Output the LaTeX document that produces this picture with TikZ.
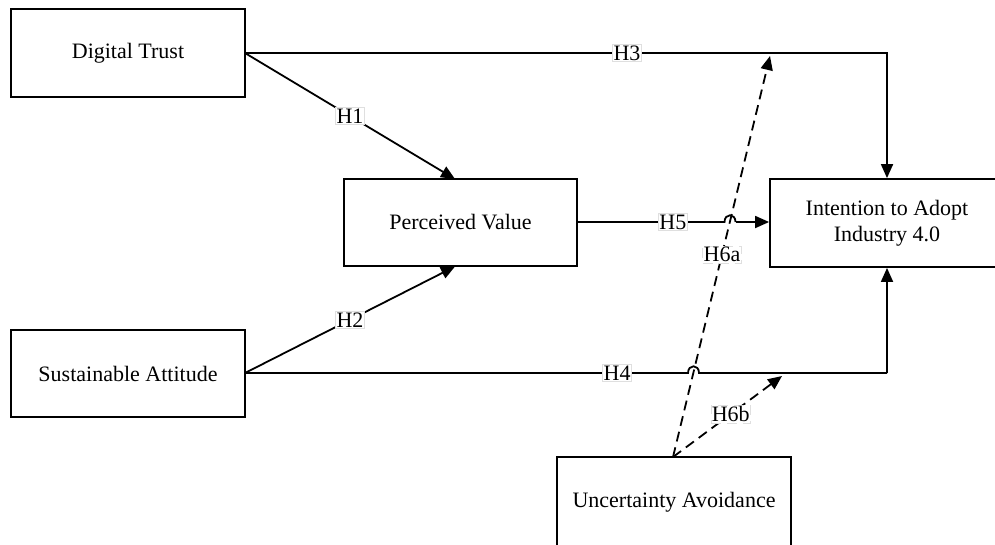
\documentclass[tikz,border=0pt]{standalone}
\usepackage{fontspec}
\setmainfont{Liberation Serif}
\usetikzlibrary{arrows.meta}
\begin{document}
\begin{tikzpicture}[x=1pt,y=-1pt,
  box/.style={draw, line width=1.8pt, rectangle, inner sep=0pt, align=center,
    font=\fontsize{22}{26}\selectfont},
  lbl/.style={fill=white, draw=gray!25, line width=0.6pt, inner sep=1pt,
    font=\fontsize{22}{26}\selectfont},
  link/.style={line width=1.8pt, -{Triangle[length=14pt,width=12pt]}},
  plain/.style={line width=1.8pt},
  dlink/.style={line width=1.8pt, dash pattern=on 10pt off 6pt,
    -{Triangle[length=14pt,width=12pt]}}]
\useasboundingbox (0,0) rectangle (995,544);
\clip (0,0) rectangle (995,544);
\fill[white] (0,0) rectangle (995,544);

\node[box, minimum width=234pt, minimum height=88pt] (dt) at (128,53) {Digital Trust};
\node[box, minimum width=233pt, minimum height=87pt] (pv) at (460.5,222.5) {Perceived Value};
\node[box, minimum width=234pt, minimum height=87pt] (sa) at (128,373.5) {Sustainable Attitude};
\node[box, minimum width=234pt, minimum height=88pt] (ia) at (887,223) {Intention to Adopt\\Industry 4.0};
\node[box, minimum width=234pt, minimum height=90pt] (ua) at (674,502) {Uncertainty Avoidance};

\coordinate (dto) at (245,53);
\coordinate (sao) at (245,373);
\coordinate (uao) at (673,457);
\coordinate (t6a) at (770,56);
\coordinate (t6b) at (782,376);
\coordinate (j5) at (735.5,222);

% H1, H2
\draw[link] (dto) -- node[lbl, pos=0.5] (h1) {H1} (455,179);
\draw[link] (sao) -- node[lbl, pos=0.5] (h2) {H2} (455,266.5);

% H3
\draw[link] (dto) -- node[lbl, pos=0.595] (h3) {H3} (887,53) -- (ia.north -| 887,0);

% H5 with jump
\draw[plain] (577,222) -- node[lbl, pos=0.65] (h5) {H5} (724.5,222)
  .. controls (724.5,213) and (735.5,213) .. (j5);
\draw[link] (j5) -- (ia.west |- j5);

% H4 with jump
\draw[plain] (sao) -- node[lbl, pos=0.84] (h4) {H4} (688,373)
  .. controls (688,364) and (699,364) .. (699,373) -- (887,373);
\draw[link] (887,373) -- (ia.south -| 887,0);

% H6a, H6b
\draw[dlink] (uao) -- node[lbl, pos=0.505] (h6a) {H6a} (t6a);
\draw[dlink] (uao) -- node[lbl, pos=0.53] (h6b) {H6b} (t6b);
\end{tikzpicture}
\end{document}
